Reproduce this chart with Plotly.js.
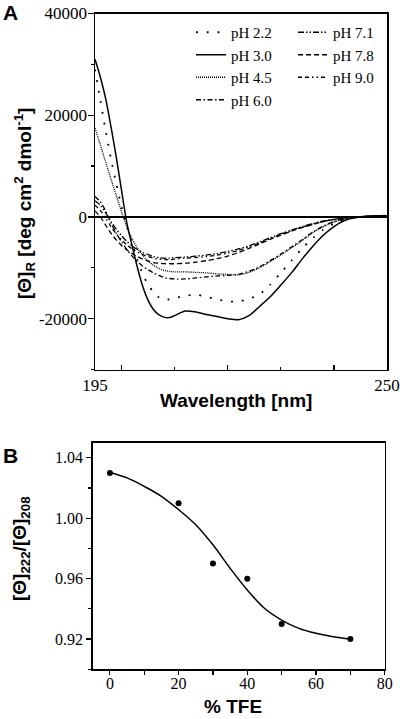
<!DOCTYPE html>
<html>
<head>
<meta charset="utf-8">
<script src="https://cdn.plot.ly/plotly-3.0.1.min.js"></script>
<style>
  html, body { margin: 0; padding: 0; background: #fff; }
  #chart { width: 400px; height: 719px; }
</style>
</head>
<body>
<div id="chart"></div>
<script>
// ---------- Panel A: CD spectra ----------
var wavelength = [195,196,197,198,199,200,201,202,203,204,205,206,207,208,209,210,
                  212,214,216,218,220,222,224,226,228,230,232,234,236,238,240,242,244,246,248,250];

var pH22 = [29000,23000,17000,11500,6500,2000,-1800,-5200,-8500,-11300,-13300,-14800,-15800,-16300,-16200,-16000,
            -15500,-15300,-15700,-16200,-16600,-16600,-16100,-15200,-13300,-11000,-8600,-6200,-4200,-2500,-1300,-500,-100,100,200,250];
var pH30 = [31000,27500,23300,17800,11800,5200,-1200,-5700,-10000,-13700,-16400,-18200,-19200,-19700,-19800,-19400,
            -18500,-18700,-19200,-19600,-20000,-20200,-19400,-17600,-15700,-13400,-11000,-8300,-5800,-3600,-1900,-700,-150,100,200,250];
var pH45 = [17500,14200,10800,7500,4200,1000,-2000,-4300,-6100,-7600,-8700,-9500,-10100,-10500,-10700,-10800,
            -10800,-10900,-11000,-11200,-11300,-11400,-10900,-10000,-8800,-7500,-6100,-4700,-3100,-1900,-1000,-400,-100,100,200,250];
var pH60 = [4000,3000,1200,-1200,-3200,-4900,-6400,-7700,-8800,-9700,-10400,-11000,-11500,-11900,-12100,-12200,
            -12200,-12000,-11800,-11600,-11500,-11300,-10700,-9800,-8600,-7300,-5900,-4500,-3000,-1800,-900,-400,-100,100,200,250];
var pH71 = [3200,2300,800,-900,-2400,-3700,-4800,-5700,-6400,-7000,-7400,-7800,-8000,-8100,-8100,-8000,
            -7900,-7700,-7500,-7200,-6800,-6300,-5700,-4900,-4100,-3300,-2600,-1900,-1300,-800,-500,-200,0,100,200,250];
var pH78 = [1200,0,-1600,-3200,-4500,-5600,-6500,-7200,-7800,-8300,-8700,-9000,-9100,-9200,-9200,-9200,
            -9100,-8900,-8600,-8200,-7700,-7000,-6200,-5300,-4400,-3600,-2800,-2100,-1500,-900,-500,-200,0,100,200,250];
var pH90 = [2300,1300,-200,-1900,-3300,-4500,-5500,-6300,-6900,-7400,-7800,-8100,-8300,-8400,-8400,-8300,
            -8100,-8000,-7800,-7500,-7100,-6600,-5900,-5100,-4300,-3400,-2700,-2000,-1400,-900,-500,-200,0,100,200,250];

var seriesNames = ['pH 2.2','pH 3.0','pH 4.5','pH 6.0','pH 7.1','pH 7.8','pH 9.0'];

// Panel A axis ticks
var aXTickVals = [195,200,220,240,250];
var aXTickText = ['195','','','','250'];
var aXMinorVals = [210,230];
var aYTickVals = [-20000,0,20000,40000];
var aYTickText = ['-20000','0','20000','40000'];
var aYMinorVals = [-30000,-10000,10000,30000];

// ---------- Panel B: ratio vs % TFE ----------
var tfe = [0,20,30,40,50,70];
var ratio = [1.03,1.01,0.97,0.96,0.93,0.92];
var fitTfe = [0,5,10,15,20,25,30,35,40,45,50,55,60,65,70];
var fitRatio = [1.0305,1.0267,1.0211,1.0145,1.0057,0.9957,0.9824,0.9669,0.9525,0.9404,0.9326,0.9271,0.9238,0.9215,0.9200];

var bXTickVals = [0,20,40,60,80];
var bXMinorVals = [10,30,50,70];
var bYTickVals = [0.92,0.96,1.00,1.04];
var bYTickText = ['0.92','0.96','1.00','1.04'];
var bYMinorVals = [0.90,0.94,0.98,1.02];

// ---------- styles ----------
var serif = 'Liberation Serif, Times New Roman, serif';
var sans = 'Liberation Sans, Arial, sans-serif';
var styles = [
  {dash: '1.8px,9px', width: 1.8, legend: 'legend'},
  {dash: 'solid', width: 1.5, legend: 'legend'},
  {dash: '1px,1px', width: 1.3, legend: 'legend'},
  {dash: '5px,2.5px,1.5px,2.5px', width: 1.3, legend: 'legend'},
  {dash: '6px,2px,1.5px,2px,1.5px,2px', width: 1.3, legend: 'legend2'},
  {dash: '5px,3px', width: 1.3, legend: 'legend2'},
  {dash: '4px,3px,4px,3px,1.5px,3px,1.5px,3px', width: 1.3, legend: 'legend2'}
];
var seriesData = [pH22, pH30, pH45, pH60, pH71, pH78, pH90];

var traces = seriesData.map(function (vals, i) {
  return {
    x: wavelength, y: vals, type: 'scatter', mode: 'lines',
    name: seriesNames[i], legend: styles[i].legend,
    line: {color: '#000', width: styles[i].width, dash: styles[i].dash, shape: 'spline', smoothing: 0.8},
    xaxis: 'x', yaxis: 'y', hoverinfo: 'skip'
  };
});
traces.push({
  x: fitTfe, y: fitRatio, type: 'scatter', mode: 'lines', showlegend: false,
  line: {color: '#000', width: 1.5, shape: 'spline', smoothing: 1},
  xaxis: 'x2', yaxis: 'y2', hoverinfo: 'skip'
});
traces.push({
  x: tfe, y: ratio, type: 'scatter', mode: 'markers', showlegend: false,
  marker: {color: '#000', size: 6},
  xaxis: 'x2', yaxis: 'y2', hoverinfo: 'skip'
});

var W = 400, H = 719;
function px(x) { return x / W; }
function py(y) { return 1 - y / H; }

var axisCommon = {
  showline: true, linecolor: '#000', linewidth: 1.5, mirror: true,
  showgrid: false, zeroline: false, tickcolor: '#000', tickwidth: 1.2,
  tickfont: {family: serif, size: 16, color: '#000'}, fixedrange: true
};

var legendCommon = {
  orientation: 'v', xanchor: 'left', yanchor: 'top',
  font: {family: serif, size: 15, color: '#000'},
  bgcolor: 'rgba(0,0,0,0)', borderwidth: 0, itemwidth: 30, tracegroupgap: 0
};

var layout = {
  width: W, height: H, autosize: false,
  margin: {l: 0, r: 0, t: 0, b: 0, pad: 0},
  paper_bgcolor: '#fff', plot_bgcolor: '#fff',
  showlegend: true,
  legend: Object.assign({}, legendCommon, {x: px(191), y: py(16)}),
  legend2: Object.assign({}, legendCommon, {x: px(293), y: py(16)}),
  xaxis: Object.assign({}, axisCommon, {
    domain: [px(95), px(387)], range: [195, 250], anchor: 'y',
    tickmode: 'array', tickvals: aXTickVals, ticktext: aXTickText,
    ticks: 'inside', ticklen: 5, tickfont: {family: serif, size: 17, color: '#000'},
    minor: {tickmode: 'array', tickvals: aXMinorVals, ticks: 'inside', ticklen: 3, tickcolor: '#000', tickwidth: 1.2}
  }),
  yaxis: Object.assign({}, axisCommon, {
    domain: [py(369.5), py(13.5)], range: [-30000, 40000], anchor: 'x',
    tickmode: 'array', tickvals: aYTickVals, ticktext: aYTickText,
    ticks: 'outside', ticklen: 6, ticklabelstandoff: -3,
    tickfont: {family: serif, size: 17, color: '#000'},
    zeroline: true, zerolinecolor: '#000', zerolinewidth: 1.5,
    minor: {tickmode: 'array', tickvals: aYMinorVals, ticks: 'outside', ticklen: 3, tickcolor: '#000', tickwidth: 1.2}
  }),
  xaxis2: Object.assign({}, axisCommon, {
    domain: [px(92.7), px(384.7)], range: [-5, 80], anchor: 'y2',
    tickmode: 'array', tickvals: bXTickVals,
    ticks: 'outside', ticklen: 4, ticklabelstandoff: -5,
    minor: {tickmode: 'array', tickvals: bXMinorVals, ticks: 'outside', ticklen: 4, tickcolor: '#000', tickwidth: 1.2}
  }),
  yaxis2: Object.assign({}, axisCommon, {
    domain: [py(669.3), py(442.7)], range: [0.90, 1.05], anchor: 'x2',
    tickmode: 'array', tickvals: bYTickVals, ticktext: bYTickText,
    ticks: 'outside', ticklen: 5,
    minor: {tickmode: 'array', tickvals: bYMinorVals, ticks: 'outside', ticklen: 3, tickcolor: '#000', tickwidth: 1.2}
  }),
  annotations: [
    {text: '<b>A</b>', xref: 'paper', yref: 'paper', x: px(10), y: py(12), showarrow: false,
     xanchor: 'center', yanchor: 'middle', font: {family: sans, size: 21, color: '#000'}},
    {text: '<b>B</b>', xref: 'paper', yref: 'paper', x: px(10.5), y: py(455), showarrow: false,
     xanchor: 'center', yanchor: 'middle', font: {family: sans, size: 21, color: '#000'}},
    {text: '<b>Wavelength [nm]</b>', xref: 'paper', yref: 'paper', x: px(236), y: py(400), showarrow: false,
     xanchor: 'center', yanchor: 'middle', font: {family: sans, size: 19, color: '#000'}},
    {text: '<b>% TFE</b>', xref: 'paper', yref: 'paper', x: px(233), y: py(706), showarrow: false,
     xanchor: 'center', yanchor: 'middle', font: {family: sans, size: 19, color: '#000'}},
    {text: '<b>[Θ]<sub>R</sub> [deg cm<sup>2</sup> dmol<sup>-1</sup>]</b>', xref: 'paper', yref: 'paper',
     x: px(25), y: py(204), showarrow: false, textangle: -90,
     xanchor: 'center', yanchor: 'middle', font: {family: sans, size: 19, color: '#000'}},
    {text: '<b>[Θ]<sub>222</sub>/[Θ]<sub>208</sub></b>', xref: 'paper', yref: 'paper',
     x: px(21), y: py(549), showarrow: false, textangle: -90,
     xanchor: 'center', yanchor: 'middle', font: {family: sans, size: 19, color: '#000'}}
  ]
};

Plotly.newPlot('chart', traces, layout, {displayModeBar: false, staticPlot: true});
</script>
</body>
</html>
